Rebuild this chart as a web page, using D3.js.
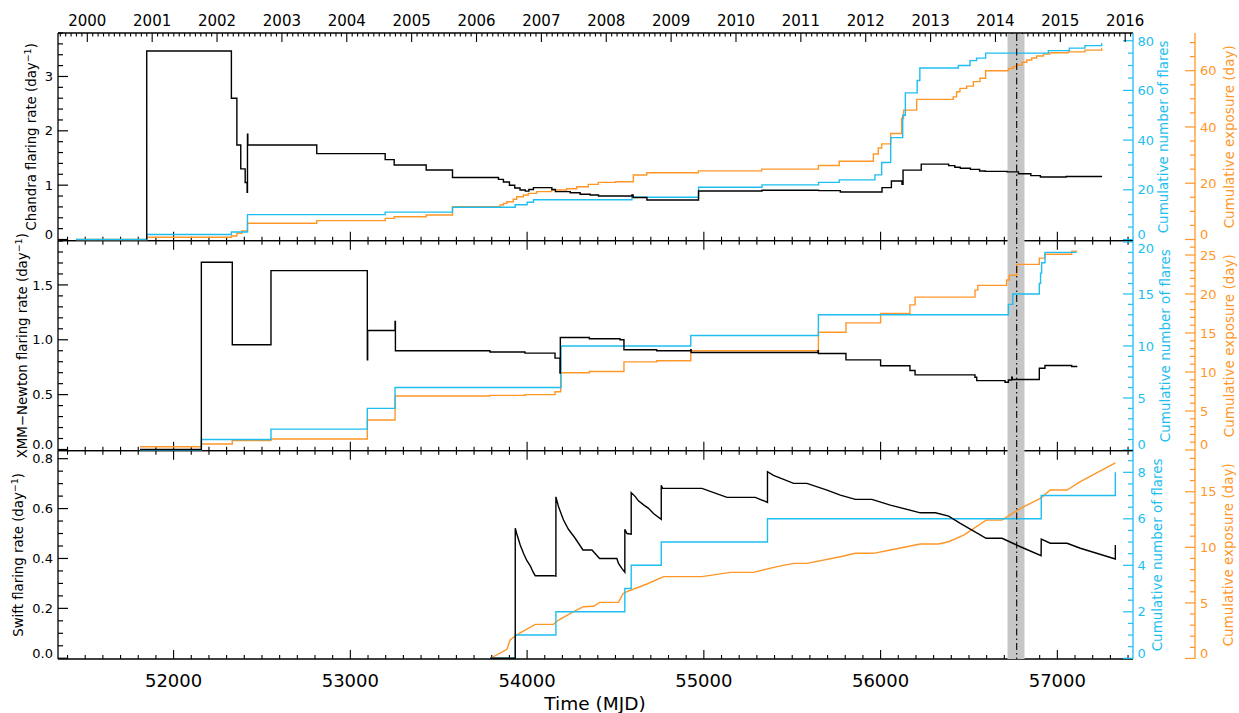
<!DOCTYPE html>
<html><head><meta charset="utf-8">
<script src="https://cdn.jsdelivr.net/npm/d3@7"></script>
<style>body{margin:0;background:#fff} text{font-family:'DejaVu Sans',sans-serif}</style>
</head><body><svg id="c" width="1239" height="713"></svg>
<script>
// ---------------- DATA (MJD, value) ----------------
const chandraRate = [[51848,0],[51848,3.47],[52327,2.60],[52358,1.74],[52380,1.30],[52405,1.05],[52416,0.87],[52418,1.94],[52420,1.74],[52810,1.58],[53197,1.47],[53248,1.37],[53429,1.28],[53578,1.14],[53838,1.107],[53866,1.057],[53900,0.997],[53930,0.948],[53960,0.911],[53990,0.89],[54010,0.92],[54036,0.955],[54140,0.92],[54160,0.881],[54244,0.86],[54300,0.832],[54357,0.82],[54404,0.801],[54593,0.82],[54600,0.772],[54678,0.728],[54970,0.893],[55329,0.905],[55649,0.90],[55772,0.874],[56008,0.955],[56061,1.076],[56121,1.015],[56127,1.277],[56230,1.387],[56385,1.36],[56420,1.33],[56451,1.31],[56508,1.29],[56560,1.26],[56592,1.253],[56715,1.245],[56780,1.21],[56850,1.175],[56904,1.149],[57050,1.16],[57253,1.16]];
const chandraFlares = [[51448,0],[51848,2],[52327,3],[52418,10],[53197,11],[53578,13],[53933,14],[54000,15],[54036,16],[54593,17],[54970,21],[55329,22],[55649,23],[55766,24],[55968,26],[56006,31],[56057,41],[56125,50],[56140,59],[56207,64],[56222,69],[56440,70],[56506,72],[56543,73],[56594,75],[56949,76],[57068,77],[57156,78],[57251,78],[57251,79]];
const chandraExposure = [[51448,0],[51848,0.78],[52327,1.24],[52358,2.2],[52386,3.0],[52418,5.75],[52810,6.7],[53197,7.5],[53248,8.1],[53429,8.7],[53578,11.65],[53847,12.26],[53866,12.85],[53885,13.4],[53922,14.3],[53941,15.2],[53979,15.8],[54007,16.4],[54054,17.0],[54139,17.6],[54224,18.05],[54281,18.76],[54346,19.6],[54403,20.3],[54500,20.5],[54601,22.9],[54677,23.7],[54969,24.4],[55327,25.0],[55648,26.3],[55766,27.8],[55959,30.4],[55987,32.5],[56006,34.0],[56057,37.7],[56119,43],[56130,46],[56204,49.8],[56411,50.7],[56430,52.5],[56449,53.7],[56487,54.5],[56525,56.1],[56562,57.3],[56594,60.0],[56723,60.8],[56750,61.5],[56770,62.0],[56800,63.0],[56827,63.8],[56855,64.5],[56883,65.2],[56921,65.9],[56958,66.4],[57062,66.7],[57156,67.3],[57251,67.9],[57253,67.9]];

const xmmRate = [[51810,0],[52157,1.706],[52332,0.954],[52551,1.63],[53096,0.817],[53098,1.085],[53253,1.167],[53255,0.90],[53790,0.888],[53988,0.878],[54158,0.833],[54186,0.696],[54188,1.021],[54352,1.009],[54526,1.0],[54548,0.909],[54733,0.9],[54926,0.91],[54928,0.884],[55646,0.90],[55648,0.875],[55804,0.817],[56000,0.763],[56166,0.72],[56195,0.68],[56534,0.659],[56544,0.628],[56704,0.613],[56723,0.634],[56742,0.66],[56745,0.638],[56898,0.741],[56930,0.765],[57081,0.756],[57113,0.756]];
const xmmFlares = [[51810,0],[52157,1],[52551,2],[53096,4],[53253,6],[54192,10],[54926,11],[55648,13],[56723,14],[56748,15],[56898,16],[56905,17],[56911,18],[56930,19],[57109,19]];
const xmmExposure = [[51810,0.42],[52157,0.77],[52332,1.2],[52551,1.41],[53096,3.85],[53253,6.92],[53790,7.0],[53988,7.1],[54158,7.47],[54190,9.9],[54352,10.06],[54548,11.3],[54733,11.45],[54926,12.73],[55648,15.1],[55804,16.3],[56000,17.5],[56166,18.6],[56195,19.6],[56534,20.5],[56550,21.1],[56713,21.8],[56728,22.4],[56770,23.8],[56898,24.6],[56930,25.1],[57081,25.5],[57113,25.5]];

const swiftRate = [[53791,0],[53933,0],[53933,0.521],[53941,0.5],[53961,0.454],[53980,0.42],[53999,0.391],[54018,0.37],[54033,0.347],[54046,0.331],[54149,0.331],[54163,0.329],[54163,0.647],[54178,0.607],[54206,0.554],[54234,0.517],[54272,0.481],[54316,0.434],[54367,0.434],[54385,0.42],[54410,0.40],[54508,0.40],[54517,0.38],[54536,0.36],[54553,0.345],[54553,0.517],[54565,0.5],[54589,0.497],[54589,0.664],[54612,0.648],[54630,0.631],[54659,0.615],[54687,0.601],[54715,0.58],[54759,0.557],[54759,0.694],[54766,0.681],[54989,0.681],[55131,0.645],[55291,0.645],[55360,0.625],[55360,0.748],[55394,0.733],[55508,0.701],[55583,0.701],[55697,0.674],[55772,0.654],[55857,0.637],[55951,0.637],[56055,0.614],[56225,0.583],[56310,0.583],[56385,0.570],[56451,0.541],[56597,0.481],[56687,0.481],[56791,0.447],[56908,0.411],[56909,0.478],[56960,0.461],[57055,0.461],[57130,0.441],[57328,0.398],[57328,0.454]];
const swiftFlares = [[53791,0],[53933,1],[54163,2],[54553,3],[54589,4],[54759,5],[55360,6],[56909,7],[57328,7],[57328,8]];
const swiftExposure = [[53791,0],[53886,0.83],[53904,1.66],[53933,2.02],[53961,2.3],[54046,3.07],[54149,3.07],[54178,3.46],[54263,4.21],[54319,4.66],[54376,4.7],[54410,5.05],[54517,5.05],[54542,5.8],[54555,5.95],[54589,6.16],[54678,6.7],[54772,7.36],[54989,7.36],[55149,7.75],[55281,7.75],[55414,8.26],[55508,8.56],[55583,8.56],[55772,9.15],[55857,9.46],[55960,9.46],[56055,9.76],[56225,10.3],[56328,10.3],[56385,10.5],[56470,11.1],[56597,12.45],[56687,12.45],[56791,13.5],[56904,14.4],[56960,15.15],[57055,15.15],[57130,15.9],[57328,17.6]];

// tick labels
const yearTicks = d3.range(2000, 2017);
const mjdLabels = [52000, 53000, 54000, 55000, 56000, 57000];
const chandraRateTicks = [0,1,2,3], chandraFlareTicks=[0,20,40,60,80], chandraExpTicks=[0,20,40,60];
const xmmRateTicks = [0,0.5,1.0,1.5], xmmFlareTicks=[0,5,10,15,20], xmmExpTicks=[0,5,10,15,20,25];
const swiftRateTicks = [0,0.2,0.4,0.6,0.8], swiftFlareTicks=[0,2,4,6,8], swiftExpTicks=[0,5,10,15];
const flareWindow = [56718, 56814], flareCenter = 56770;

// ---------------- LAYOUT ----------------
const CYAN = '#1ebef0', ORANGE = '#ff9628';
const L = 58, R = 1133, OAX = 1195;
const svg = d3.select('#c');
const x = d3.scaleLinear().domain([51346, 57428]).range([L, R]);
const yearX = d3.scaleLinear().domain([2000, 2016]).range([87.3, 1125.2]);

const panels = [
  {top:33, bottom:240.7, rate:chandraRate, flares:chandraFlares, exp:chandraExposure,
   rateDom:[-0.022,3.8], rateTicks:chandraRateTicks, rateMinor:0.2, rateFmt:d3.format('d'),
   flareDom:[-0.48,83.1], flareTicks:chandraFlareTicks, flareMinor:5,
   expDom:[-0.43,73.4], expTicks:chandraExpTicks, expMinor:5, swiftLike:false,
   title:'Chandra flaring rate (day', tx:31, cx:1163, ox:1229},
  {top:240.7, bottom:450.7, rate:xmmRate, flares:xmmFlares, exp:xmmExposure,
   rateDom:[-0.011,1.903], rateTicks:xmmRateTicks, rateMinor:0.1, rateFmt:d3.format('.1f'),
   flareDom:[-0.07,20.12], flareTicks:xmmFlareTicks, flareMinor:1,
   expDom:[-0.09,26.83], expTicks:xmmExpTicks, expMinor:1, swiftLike:false,
   title:'XMM\u2212Newton flaring rate (day', tx:22.5, cx:1165, ox:1229},
  {top:450.7, bottom:659, rate:swiftRate, flares:swiftFlares, exp:swiftExposure,
   rateDom:[-0.003,0.832], rateTicks:swiftRateTicks, rateMinor:0.05, rateFmt:d3.format('.1f'),
   flareDom:[-0.03,8.93], flareTicks:swiftFlareTicks, flareMinor:0.5,
   expDom:[-0.045,18.69], expTicks:swiftExpTicks, expMinor:1, swiftLike:true,
   title:'Swift flaring rate (day', tx:18.3, cx:1157, ox:1228}
];

const gAx = svg.append('g');
const gBand = svg.append('g');
const gData = svg.append('g');
const gTop = svg.append('g');

function vTicks(g, scale, xPos, dir, majors, minorStep, color, fmt, labelX, anchor, top, bottom) {
  const dom = scale.domain();
  const minors = d3.range(0, dom[1] + 1e-9, minorStep).filter(v => v >= 0);
  minors.forEach(v => {
    const isMaj = majors.some(m => Math.abs(m - v) < 1e-6);
    g.append('line').attr('x1', xPos).attr('x2', xPos + dir * (isMaj ? 10 : 5))
      .attr('y1', scale(v)).attr('y2', scale(v)).attr('stroke', color).attr('stroke-width', 1.2);
  });
  majors.forEach(v => {
    const ly = Math.max(Math.min(scale(v), bottom - 6), top + 8);
    g.append('text').attr('x', labelX).attr('y', ly).attr('dy', '0.36em')
      .attr('text-anchor', anchor).attr('font-size', 13).attr('fill', color).text(fmt(v));
  });
}

// orange axis line (full height)
gAx.append('line').attr('x1', OAX).attr('x2', OAX).attr('y1', 33).attr('y2', 659)
  .attr('stroke', ORANGE).attr('stroke-width', 1.3);

panels.forEach((p, i) => {
  const yR = d3.scaleLinear().domain(p.rateDom).range([p.bottom, p.top]);
  const yF = d3.scaleLinear().domain(p.flareDom).range([p.bottom, p.top]);
  const yE = d3.scaleLinear().domain(p.expDom).range([p.bottom, p.top]);
  p.yR = yR; p.yF = yF; p.yE = yE;

  // frame
  gAx.append('line').attr('x1', L).attr('x2', L).attr('y1', p.top).attr('y2', p.bottom).attr('stroke', '#000').attr('stroke-width', 1.3);
  gAx.append('line').attr('x1', L).attr('x2', R).attr('y1', p.bottom).attr('y2', p.bottom).attr('stroke', '#000').attr('stroke-width', 1.3);
  gAx.append('line').attr('x1', L).attr('x2', R).attr('y1', p.top).attr('y2', p.top).attr('stroke', '#000').attr('stroke-width', 1.3);
  gAx.append('line').attr('x1', R).attr('x2', R).attr('y1', p.top).attr('y2', p.bottom).attr('stroke', CYAN).attr('stroke-width', 1.3);

  // MJD ticks on panel edges
  d3.range(51400, 57429, 100).forEach(m => {
    const maj = m % 1000 === 0;
    gAx.append('line').attr('x1', x(m)).attr('x2', x(m)).attr('y1', p.bottom).attr('y2', p.bottom - (maj ? 9 : 4))
      .attr('stroke', '#000').attr('stroke-width', 1.1);
    if (i > 0) {
      gAx.append('line').attr('x1', x(m)).attr('x2', x(m)).attr('y1', p.top).attr('y2', p.top + (maj ? 9 : 4))
        .attr('stroke', '#000').attr('stroke-width', 1.1);
    }
  });

  vTicks(gAx, yR, L, 1, p.rateTicks, p.rateMinor, '#000', p.rateFmt, 53, 'end', p.top, p.bottom);
  vTicks(gAx, yF, R, -1, p.flareTicks, p.flareMinor, CYAN, d3.format('d'), 1137.5, 'start', p.top, p.bottom);
  vTicks(gAx, yE, OAX, -1, p.expTicks, p.expMinor, ORANGE, d3.format('d'), 1200, 'start', p.top, p.bottom);

  const cy = (p.top + p.bottom) / 2;
  const t = gAx.append('text').attr('transform', `translate(${p.tx},${cy}) rotate(-90)`)
    .attr('text-anchor', 'middle').attr('dy', '0.35em').attr('font-size', 13.3).attr('fill', '#000');
  t.append('tspan').text(p.title);
  t.append('tspan').attr('dy', -5).attr('font-size', 9.5).text('\u22121');
  t.append('tspan').attr('dy', 5).text(')');
  gAx.append('text').attr('transform', `translate(${p.cx},${cy}) rotate(-90)`)
    .attr('text-anchor', 'middle').attr('dy', '0.35em').attr('font-size', 13.5).attr('fill', CYAN)
    .text('Cumulative number of flares');
  gAx.append('text').attr('transform', `translate(${p.ox},${cy}) rotate(-90)`)
    .attr('text-anchor', 'middle').attr('dy', '0.35em').attr('font-size', 13.5).attr('fill', ORANGE)
    .text('Cumulative exposure (day)');
});

// top year axis
d3.range(-5, 16 * 12 + 2).forEach(k => {
  const yv = 2000 + k / 12;
  const px = yearX(yv);
  if (px < L || px > R) return;
  const maj = k % 12 === 0;
  gAx.append('line').attr('x1', px).attr('x2', px).attr('y1', 33).attr('y2', 33 + (maj ? 9 : 3.5))
    .attr('stroke', '#000').attr('stroke-width', 1.1);
});
yearTicks.forEach(yv => {
  gAx.append('text').attr('x', yearX(yv)).attr('y', 26).attr('text-anchor', 'middle')
    .attr('font-size', 15).text(yv);
});
// bottom MJD labels
mjdLabels.forEach(m => {
  gAx.append('text').attr('x', x(m)).attr('y', 687).attr('text-anchor', 'middle')
    .attr('font-size', 18).text(m);
});
gAx.append('text').attr('x', 595).attr('y', 710).attr('text-anchor', 'middle')
  .attr('font-size', 18.5).text('Time (MJD)');

// grey band
gBand.append('rect').attr('x', x(flareWindow[0])).attr('width', x(flareWindow[1]) - x(flareWindow[0]))
  .attr('y', 34).attr('height', 659 - 34).attr('fill', '#c6c6c6');

// data lines
panels.forEach(p => {
  const mk = (ys, curve) => d3.line().x(d => x(d[0])).y(d => ys(d[1])).curve(curve);
  const expCurve = p.swiftLike ? d3.curveLinear : d3.curveStepAfter;
  const rateCurve = p.swiftLike ? d3.curveLinear : d3.curveStepAfter;
  gData.append('path').attr('d', mk(p.yE, expCurve)(p.exp)).attr('fill', 'none').attr('stroke', ORANGE).attr('stroke-width', 1.4);
  gData.append('path').attr('d', mk(p.yF, d3.curveStepAfter)(p.flares)).attr('fill', 'none').attr('stroke', CYAN).attr('stroke-width', 1.4);
  gData.append('path').attr('d', mk(p.yR, rateCurve)(p.rate)).attr('fill', 'none').attr('stroke', '#000').attr('stroke-width', 1.4);
});

// dash-dot line
gTop.append('line').attr('x1', x(flareCenter)).attr('x2', x(flareCenter)).attr('y1', 34).attr('y2', 659)
  .attr('stroke', '#000').attr('stroke-width', 1.1).attr('stroke-dasharray', '7,3,1.5,3');
</script></body></html>
